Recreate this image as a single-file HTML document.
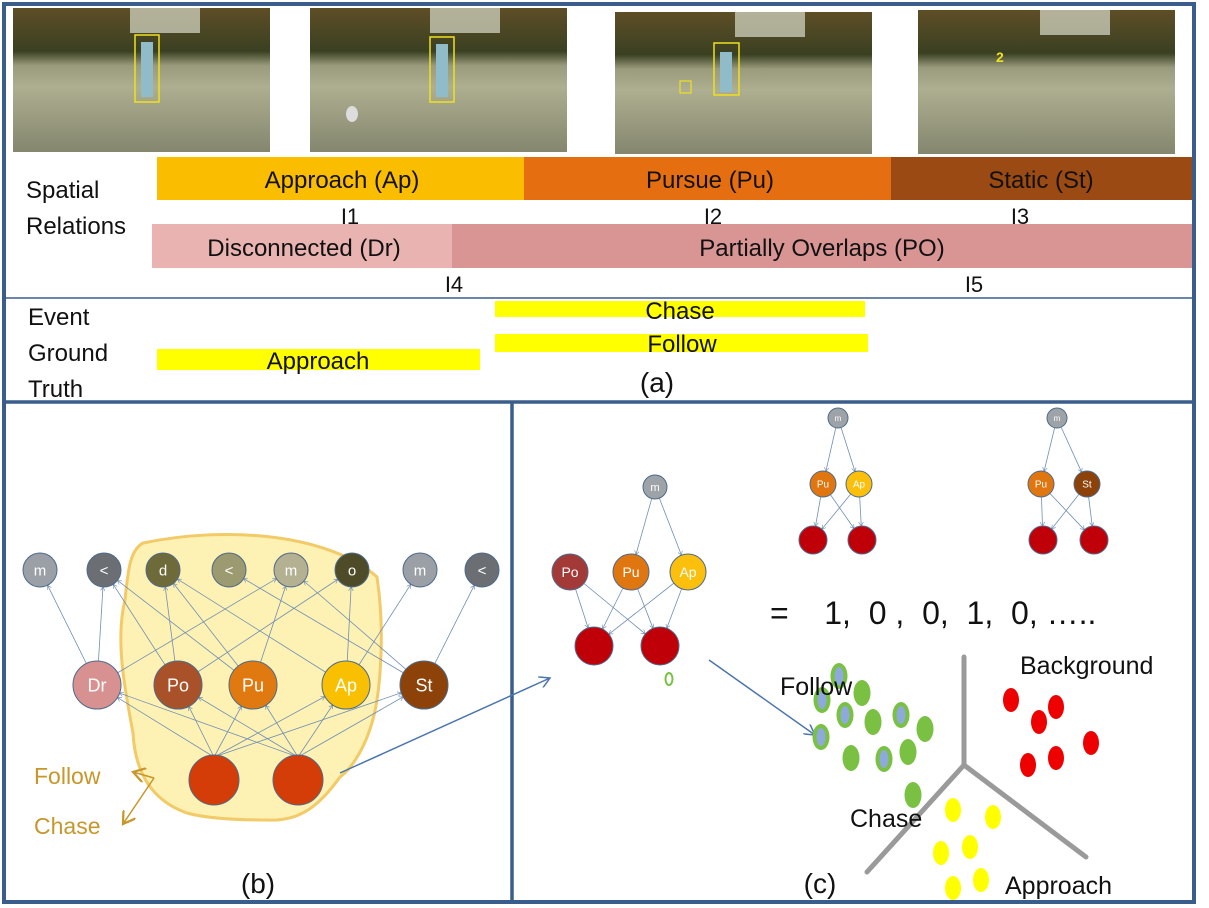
<!DOCTYPE html>
<html><head><meta charset="utf-8"><style>
html,body{margin:0;padding:0;background:#fff;}
svg{display:block;font-family:"Liberation Sans",sans-serif;}
</style></head><body>
<svg width="1209" height="908" viewBox="0 0 1209 908" xmlns="http://www.w3.org/2000/svg">
<defs>
<linearGradient id="photo" x1="0" y1="0" x2="0" y2="1">
<stop offset="0" stop-color="#5e4e26"/><stop offset="0.3" stop-color="#3a4022"/><stop offset="0.4" stop-color="#9a9b7c"/><stop offset="0.55" stop-color="#aeae90"/><stop offset="1" stop-color="#84866e"/></linearGradient>
<marker id="ah" markerWidth="8" markerHeight="8" refX="7" refY="4" orient="auto"><path d="M0,0 L7,4 L0,8" fill="none" stroke="#4a75b0" stroke-width="1"/></marker>
<marker id="ahs" markerWidth="6" markerHeight="6" refX="5" refY="3" orient="auto"><path d="M0,0 L5,3 L0,6" fill="none" stroke="#6f8fb5" stroke-width="0.8"/></marker>
<marker id="aho" markerWidth="10" markerHeight="10" refX="8" refY="5" orient="auto"><path d="M0,0 L8,5 L0,10" fill="none" stroke="#c8962a" stroke-width="1.5"/></marker>
</defs>
<rect x="0" y="0" width="1209" height="908" fill="#fff"/>
<rect x="4" y="4" width="1190" height="898" fill="none" stroke="#3a5d8c" stroke-width="4"/>
<line x1="4" y1="298" x2="1194" y2="298" stroke="#3a5d8c" stroke-width="1.5"/>
<line x1="4" y1="402" x2="1194" y2="402" stroke="#3a5d8c" stroke-width="3.5"/>
<line x1="512" y1="402" x2="512" y2="902" stroke="#3a5d8c" stroke-width="3.5"/>

<g>
<g><rect x="13" y="8" width="257" height="144" fill="url(#photo)"/><rect x="130" y="8" width="70" height="25" fill="#d8dccb" opacity="0.7"/><rect x="135" y="35" width="24" height="67" fill="none" stroke="#f0e020" stroke-width="1.5"/><rect x="141" y="42" width="12" height="55" fill="#8fbcc8"/></g>
<g><rect x="310" y="8" width="257" height="144" fill="url(#photo)"/><rect x="430" y="8" width="70" height="25" fill="#d8dccb" opacity="0.7"/><rect x="430" y="37" width="24" height="65" fill="none" stroke="#f0e020" stroke-width="1.5"/><rect x="436" y="44" width="12" height="53" fill="#8fbcc8"/><ellipse cx="352" cy="114" rx="6" ry="8" fill="#ddd"/></g>
<g><rect x="615" y="12" width="257" height="142" fill="url(#photo)"/><rect x="735" y="12" width="70" height="25" fill="#d8dccb" opacity="0.7"/><rect x="714" y="43" width="25" height="52" fill="none" stroke="#f0e020" stroke-width="1.5"/><rect x="720" y="52" width="12" height="40" fill="#8fbcc8"/><rect x="680" y="81" width="11" height="12" fill="none" stroke="#f0e020" stroke-width="1.2"/></g>
<g><rect x="918" y="10" width="257" height="144" fill="url(#photo)"/><rect x="1040" y="10" width="70" height="25" fill="#d8dccb" opacity="0.7"/><text x="996" y="62" font-size="14" fill="#f0e020" font-weight="bold">2</text></g>
</g>

<text x="26" y="198" font-size="24" fill="#111">Spatial</text>
<text x="26" y="234" font-size="24" fill="#111">Relations</text>
<rect x="157" y="157" width="367" height="43" fill="#fbbd00"/>
<rect x="524" y="157" width="367" height="43" fill="#e56f10"/>
<rect x="891" y="157" width="301" height="43" fill="#9a4a12"/>
<text x="342" y="188" font-size="24" fill="#111" text-anchor="middle">Approach (Ap)</text>
<text x="710" y="188" font-size="24" fill="#111" text-anchor="middle">Pursue (Pu)</text>
<text x="1041" y="188" font-size="24" fill="#111" text-anchor="middle">Static (St)</text>
<text x="350" y="224" font-size="22" fill="#111" text-anchor="middle">I1</text>
<text x="713" y="224" font-size="22" fill="#111" text-anchor="middle">I2</text>
<text x="1020" y="224" font-size="22" fill="#111" text-anchor="middle">I3</text>
<rect x="152" y="224" width="300" height="44" fill="#e8b3b0"/>
<rect x="452" y="224" width="740" height="44" fill="#d99594"/>
<text x="304" y="256" font-size="24" fill="#111" text-anchor="middle">Disconnected (Dr)</text>
<text x="822" y="256" font-size="24" fill="#111" text-anchor="middle">Partially Overlaps (PO)</text>
<text x="454" y="292" font-size="22" fill="#111" text-anchor="middle">I4</text>
<text x="974" y="292" font-size="22" fill="#111" text-anchor="middle">I5</text>

<text x="28" y="325" font-size="24" fill="#111">Event</text>
<text x="28" y="361" font-size="24" fill="#111">Ground</text>
<text x="28" y="397" font-size="24" fill="#111">Truth</text>
<rect x="495" y="301" width="370" height="16" fill="#ffff00"/>
<text x="680" y="319" font-size="24" fill="#111" text-anchor="middle">Chase</text>
<rect x="495" y="334" width="373" height="18" fill="#ffff00"/>
<text x="682" y="352" font-size="24" fill="#111" text-anchor="middle">Follow</text>
<rect x="157" y="349" width="323" height="21" fill="#ffff00"/>
<text x="318" y="369" font-size="24" fill="#111" text-anchor="middle">Approach</text>
<text x="657" y="392" font-size="28" fill="#111" text-anchor="middle">(a)</text>

<g id="pb"></g>
<text x="34" y="784" font-size="23" fill="#c8962a">Follow</text>
<text x="34" y="834" font-size="23" fill="#c8962a">Chase</text>
<line x1="154" y1="778" x2="133" y2="772" stroke="#c8962a" stroke-width="1.5" marker-end="url(#aho)"/>
<line x1="154" y1="778" x2="123" y2="824" stroke="#c8962a" stroke-width="1.5" marker-end="url(#aho)"/>
<text x="258" y="893" font-size="28" fill="#111" text-anchor="middle">(b)</text>
<line x1="340" y1="773" x2="550" y2="678" stroke="#4a75b0" stroke-width="1.5" marker-end="url(#ah)"/>

<g id="pc"></g>
<text x="770" y="624" font-size="32" fill="#111">=&#160;&#160;&#160;&#160;1,&#160;&#160;0 ,&#160;&#160;0,&#160;&#160;1,&#160;&#160;0, …..</text>
<g stroke="#9a9a9a" stroke-width="5" stroke-linecap="round">
<line x1="964" y1="657" x2="964" y2="765"/><line x1="964" y1="765" x2="867" y2="872"/><line x1="964" y1="765" x2="1086" y2="857"/></g>
<line x1="709" y1="660" x2="815" y2="735" stroke="#4a75b0" stroke-width="1.5" marker-end="url(#ah)"/>
<g id="dots"></g>
<text x="1020" y="674" font-size="25" fill="#111">Background</text>
<text x="780" y="695" font-size="25" fill="#111">Follow</text>
<text x="850" y="827" font-size="25" fill="#111">Chase</text>
<text x="1005" y="894" font-size="25" fill="#111">Approach</text>
<text x="820" y="893" font-size="28" fill="#111" text-anchor="middle">(c)</text>
</svg>
<script>
const NS='http://www.w3.org/2000/svg';
function mk(parent,tag,attrs){const e=document.createElementNS(NS,tag);for(const k in attrs)e.setAttribute(k,attrs[k]);parent.appendChild(e);return e;}
function node(p,x,y,r,fill,label,fs,name){
  const g=mk(p,'g',{});
  
  
  mk(g,'circle',{cx:x,cy:y,r:r,fill:fill,stroke:'#4d6a8a','stroke-width':1});
  if(label){const t=mk(g,'text',{x:x,y:y+fs*0.35,'font-size':fs,fill:'#fff','text-anchor':'middle'});t.textContent=label;}
}
function edge(p,x1,y1,x2,y2,r2){
  const dx=x2-x1,dy=y2-y1,d=Math.hypot(dx,dy);
  mk(p,'line',{x1:x1,y1:y1,x2:x2-dx/d*r2,y2:y2-dy/d*r2,stroke:'#6f8fb5','stroke-width':0.8,'marker-end':'url(#ahs)'});
}
const pb=document.getElementById('pb');
mk(pb,'path',{d:'M143,543 C230,525 330,535 377,577 C385,630 380,680 377,700 C370,745 350,770 340,777 C320,805 300,822 267,820 C235,820 205,818 187,813 C150,800 135,770 133,733 C125,690 115,640 125,600 C128,570 130,550 143,543 Z',fill:'#fdf1b0',stroke:'#f2c860','stroke-width':3,opacity:0.95});
const topN=[[40,'m','#9aa0a6'],[104,'<','#6b6e72'],[163,'d','#6e6a3a'],[229,'<','#9c9a70'],[291,'m','#b3b192'],[352,'o','#4e4c28'],[420,'m','#9aa0a6'],[482,'<','#6b6e72']];
const midN=[[97,'Dr','#d79191'],[178,'Po','#a9522a'],[253,'Pu','#e07a10'],[346,'Ap','#f8c000'],[424,'St','#8c4208']];
const botN=[214,298];
const midTop=[[0,1,4],[1,2,5],[1,2,4],[2,5,6],[3,4,7]];
midTop.forEach((ts,i)=>ts.forEach(t=>edge(pb,midN[i][0],685,topN[t][0],570,17)));
botN.forEach(bx=>midN.forEach(m=>edge(pb,bx,757,m[0],685,24)));
topN.forEach((n,i)=>node(pb,n[0],570,17,n[2],n[1],15,'top-node-'+i));
midN.forEach(n=>node(pb,n[0],685,24,n[2],n[1],18,'relation-node-'+n[1].toLowerCase()));
botN.forEach((x,i)=>node(pb,x,780,25,'#d43c08','',0,'event-node-'+i));
const pc=document.getElementById('pc');
function tree(mx,my,mr,mids,rootKids,mr2,my2,bots,br,by,fs){
  rootKids.forEach(k=>edge(pc,mx,my,mids[k][0],my2,mr2));
  bots.forEach(b=>mids.forEach(m=>edge(pc,m[0],my2,b,by,br)));
  node(pc,mx,my,mr,'#9ea3a8','m',Math.max(fs*0.8,8),'tree-root');
  mids.forEach(m=>node(pc,m[0],my2,mr2,m[2],m[1],fs,'tree-node-'+m[1].toLowerCase()));
  bots.forEach((b,i)=>node(pc,b,by,br,'#c00008','',0,'tree-leaf-'+i));
}
tree(655,487,12,[[570,'Po','#a43a38'],[631,'Pu','#e0760f'],[688,'Ap','#fbbf0c']],[1,2],18,572,[594,660],19,646,14);
tree(838,418,10,[[823,'Pu','#e0760f'],[859,'Ap','#fbbf0c']],[0,1],13,484,[813,862],14,540,10);
tree(1057,418,10,[[1041,'Pu','#e0760f'],[1087,'St','#8c4208']],[0,1],13,484,[1043,1094],14,540,10);
mk(pc,'ellipse',{cx:669,cy:679,rx:3.5,ry:6,fill:'none',stroke:'#7ac143','stroke-width':2});
const greenDots=[[839,676,1],[822,700,1],[862,693,0],[845,715,1],[873,722,0],[901,715,1],[925,729,0],[821,737,1],[851,758,0],[884,759,1],[908,752,0],[913,795,0]];
const redDots=[[1011,700],[1056,707],[1039,722],[1091,743],[1028,765],[1056,758]];
const yellowDots=[[953,810],[993,817],[970,847],[941,853],[953,888],[981,880]];
const dots=document.getElementById('dots');
greenDots.forEach(d=>{
  const e=mk(dots,'ellipse',{cx:d[0],cy:d[1],rx:8.5,ry:13,fill:'#7ac143'});
  
  
  if(d[2]) mk(dots,'ellipse',{cx:d[0],cy:d[1],rx:4.5,ry:9,fill:'#8eaadb'});
});
redDots.forEach(d=>{
  const e=mk(dots,'ellipse',{cx:d[0],cy:d[1],rx:8,ry:12,fill:'#ee0000'});
  
  
});
yellowDots.forEach(d=>{
  const e=mk(dots,'ellipse',{cx:d[0],cy:d[1],rx:8,ry:12,fill:'#ffff00'});
  
  
});
</script>
</body></html>
